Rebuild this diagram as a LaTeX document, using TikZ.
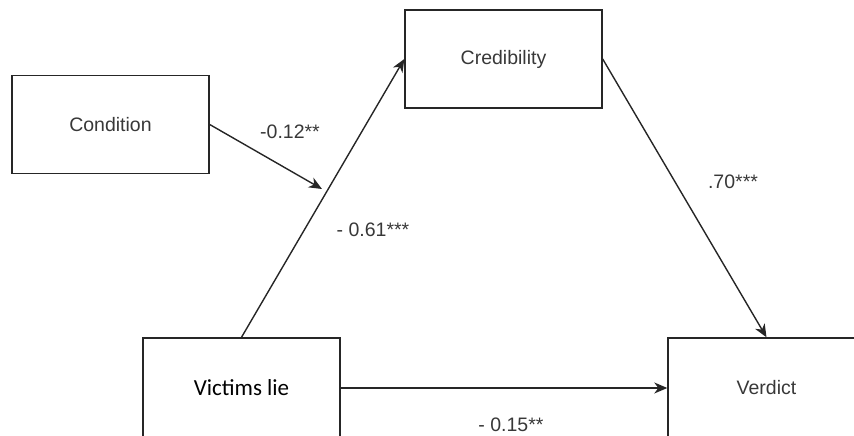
\documentclass[tikz,border=0pt]{standalone}
\usepackage{fontspec}
\setmainfont{Liberation Sans}
\newfontfamily\calibrifont{Carlito}
\usepackage{xcolor}
\usetikzlibrary{arrows.meta, positioning, calc}
\definecolor{labelgray}{rgb}{0.22, 0.22, 0.22}

\begin{document}
\begin{tikzpicture}[x=1pt, y=1pt, >={Stealth[length=13pt, width=11pt, inset=4pt]}, line width=1.4pt,
    varbox/.style={draw=black!85, minimum width=197pt, minimum height=98pt, inner sep=0pt, text=labelgray,
        font=\fontsize{19.5}{23}\selectfont},
    coef/.style={text=labelgray, inner sep=0pt, font=\fontsize{19.5}{23}\selectfont}]
        \clip (0,0) rectangle (854,436);
        % Variables
        \node [varbox] (cond) at (110.5,311.5) {Condition};
        \node [varbox] (cred) at (503.5,377) {Credibility};
        \node [varbox, minimum height=100pt, text=black, font=\calibrifont\fontsize{23}{27}\selectfont] (lie) at (241.5,48) {Victims lie};
        \node [varbox, minimum height=100pt] (verd) at (766.5,48) {Verdict};
        % Paths
        \draw [->, black!85] (lie.north) -- (cred.west);
        \draw [->, black!85] (cred.east) -- (verd.north);
        \draw [->, black!85] (lie.east) -- (verd.west);
        % Moderation arrow
        \coordinate (modtip) at (322,247);
        \draw [->, black!85] (cond.east) -- (modtip);
        % Coefficients
        \node [coef] (bmod) at (290,304) {-0.12**};
        \node [coef] (bliecred) at (373,206) {- 0.61***};
        \node [coef] (bcredverd) at (733,254) {.70***};
        \node [coef] (blieverd) at (511,11) {- 0.15**};
    \end{tikzpicture}
\end{document}
